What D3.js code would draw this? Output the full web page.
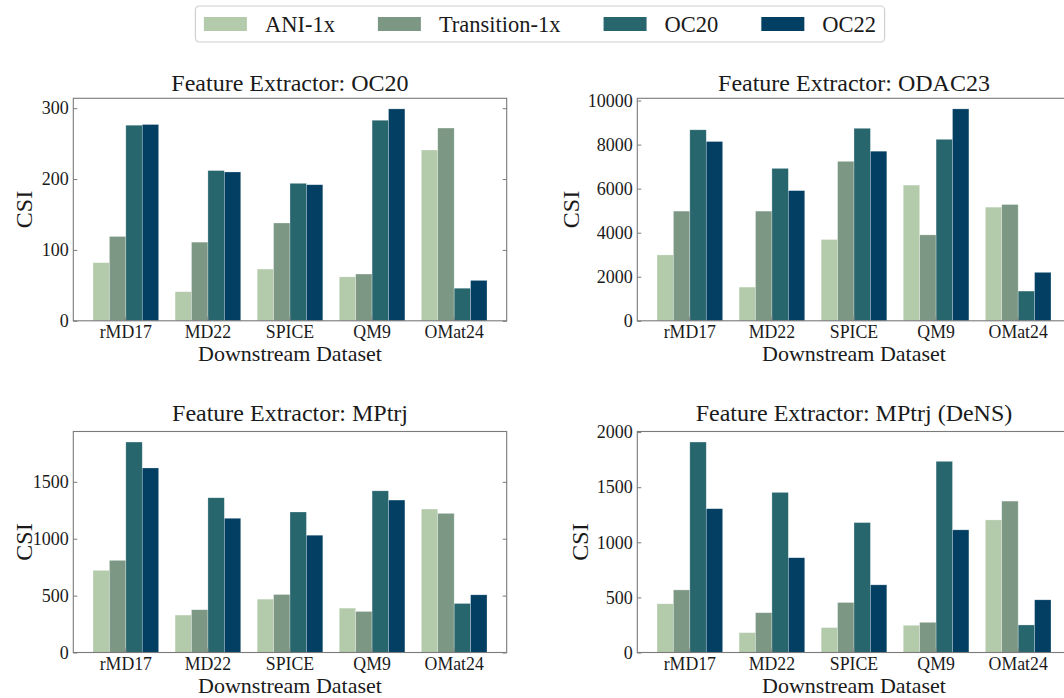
<!DOCTYPE html>
<html>
<head>
<meta charset="utf-8">
<script src="https://cdn.jsdelivr.net/npm/d3@7"></script>
<style>
  html, body { margin: 0; padding: 0; background: #fff; }
  svg { display: block; }
</style>
</head>
<body>
<svg id="chart" width="1064" height="698"></svg>
<script>
// Downstream datasets (x categories) and pre-training sources (bar series)
const datasets = ["rMD17", "MD22", "SPICE", "QM9", "OMat24"];
const sources = ["ANI-1x", "Transition-1x", "OC20", "OC22"];
const sourceColors = ["#b3caab", "#7c9885", "#28666e", "#033f63"];

// Feature extractor: OC20
const oc20Ani = [82, 41, 73, 62, 241];
const oc20Transition = [119, 111, 138, 66, 272];
const oc20Oc20 = [276, 212, 194, 283, 46];
const oc20Oc22 = [277, 210, 192, 299, 57];
const oc20Ticks = [0, 100, 200, 300];

// Feature extractor: ODAC23
const odacAni = [2990, 1530, 3690, 6160, 5160];
const odacTransition = [4980, 4980, 7240, 3900, 5280];
const odacOc20 = [8670, 6920, 8740, 8240, 1350];
const odacOc22 = [8140, 5910, 7700, 9620, 2200];
const odacTicks = [0, 2000, 4000, 6000, 8000, 10000];

// Feature extractor: MPtrj
const mptrjAni = [722, 329, 469, 390, 1261];
const mptrjTransition = [810, 376, 510, 361, 1223];
const mptrjOc20 = [1850, 1360, 1235, 1421, 431];
const mptrjOc22 = [1622, 1180, 1031, 1340, 507];
const mptrjTicks = [0, 500, 1000, 1500];

// Feature extractor: MPtrj (DeNS)
const densAni = [442, 180, 226, 247, 1203];
const densTransition = [568, 361, 454, 274, 1374];
const densOc20 = [1910, 1453, 1179, 1735, 250];
const densOc22 = [1305, 860, 614, 1113, 478];
const densTicks = [0, 500, 1000, 1500, 2000];

const panels = [
  { title: "Feature Extractor: OC20", series: [oc20Ani, oc20Transition, oc20Oc20, oc20Oc22], ticks: oc20Ticks,
    left: 73.3, top: 98.3, height: 222.5, titleY: 90.5, ylabelX: 24 },
  { title: "Feature Extractor: ODAC23", series: [odacAni, odacTransition, odacOc20, odacOc22], ticks: odacTicks,
    left: 637.3, top: 98.3, height: 222.5, titleY: 90.5, ylabelX: 571 },
  { title: "Feature Extractor: MPtrj", series: [mptrjAni, mptrjTransition, mptrjOc20, mptrjOc22], ticks: mptrjTicks,
    left: 73.3, top: 431.5, height: 221, titleY: 421, ylabelX: 24 },
  { title: "Feature Extractor: MPtrj (DeNS)", series: [densAni, densTransition, densOc20, densOc22], ticks: densTicks,
    left: 637.3, top: 431.5, height: 221, titleY: 421, ylabelX: 580 }
];

const FONT = '"Liberation Serif", "Times New Roman", Tinos, serif';
const INK = "#1a1a1a";
const plotW = 433.4;
const spineColor = "#7a7a7a";
const svg = d3.select("#chart");
svg.append("rect").attr("width", 1064).attr("height", 698).attr("fill", "#fff");

function label(sel, size) {
  return sel.style("font-family", FONT).style("font-size", size + "px").style("fill", INK);
}

panels.forEach(p => {
  const L = p.left, T = p.top, R = L + plotW, B = T + p.height;
  const maxV = d3.max(p.series.flat());
  const x = d3.scaleBand().domain(datasets).range([L, R]).paddingInner(0.2).paddingOuter(0.24);
  const xs = d3.scaleBand().domain(sources).range([0, x.bandwidth()]);
  const y = d3.scaleLinear().domain([0, maxV * 1.05]).range([B, T]);

  const g = svg.append("g");

  // grouped bars, one <g> per source
  sources.forEach((s, si) => {
    g.append("g").selectAll("rect")
      .data(datasets.map((d, di) => ({ d, v: p.series[si][di] })))
      .join("rect")
      .attr("x", d => x(d.d) + xs(s))
      .attr("y", d => y(d.v))
      .attr("width", xs.bandwidth())
      .attr("height", d => B - y(d.v))
      .attr("fill", sourceColors[si])
      .attr("stroke", "#ffffff")
      .attr("stroke-opacity", 0.45)
      .attr("stroke-width", 0.6);
  });

  // axes with inward ticks (left, right, bottom)
  const yAxis = g.append("g").attr("transform", `translate(${L},0)`)
    .call(d3.axisLeft(y).tickValues(p.ticks).tickSize(-4).tickPadding(4.5).tickFormat(d3.format("d")));
  const yAxisR = g.append("g").attr("transform", `translate(${R},0)`)
    .call(d3.axisRight(y).tickValues(p.ticks).tickSize(-4).tickFormat(""));
  const xAxis = g.append("g").attr("transform", `translate(0,${B})`)
    .call(d3.axisBottom(x).tickSize(-4).tickPadding(5));
  [yAxis, yAxisR, xAxis].forEach(a => {
    a.select(".domain").remove();
    a.selectAll(".tick line").attr("stroke", spineColor).attr("stroke-width", 1);
  });
  label(yAxis.selectAll("text"), 18);
  label(xAxis.selectAll("text"), 17.8);

  // frame
  g.append("rect").attr("x", L).attr("y", T).attr("width", plotW).attr("height", p.height)
    .attr("fill", "none").attr("stroke", spineColor).attr("stroke-width", 1.1);

  // title and axis labels
  label(g.append("text"), 24).attr("x", (L + R) / 2).attr("y", p.titleY)
    .attr("text-anchor", "middle").text(p.title);
  label(g.append("text"), 22).attr("x", (L + R) / 2).attr("y", B + 40.5)
    .attr("text-anchor", "middle").text("Downstream Dataset");
  label(g.append("text"), 24).attr("transform", `translate(${p.ylabelX},${(T + B) / 2}) rotate(-90)`)
    .attr("text-anchor", "middle").attr("dominant-baseline", "central").text("CSI");
});

// legend, laid out from measured label widths and centred above the panels
const legend = svg.append("g");
const swW = 43, swH = 14, gapText = 18, gapCol = 43, padX = 8.5;
let cx = padX;
sources.forEach((s, i) => {
  legend.append("rect").attr("x", cx).attr("y", 17).attr("width", swW).attr("height", swH)
    .attr("fill", sourceColors[i]);
  cx += swW + gapText;
  const t = label(legend.append("text"), 22.5).attr("x", cx).attr("y", 31.5).text(s);
  cx += t.node().getComputedTextLength();
  if (i < sources.length - 1) cx += gapCol;
});
const legW = cx + padX;
legend.insert("rect", ":first-child").attr("x", 0).attr("y", 6).attr("width", legW).attr("height", 36)
  .attr("rx", 4).attr("fill", "#fff").attr("stroke", "#d0d0d0").attr("stroke-width", 1.2);
legend.attr("transform", `translate(${540 - legW / 2},0)`);
</script>
</body>
</html>
